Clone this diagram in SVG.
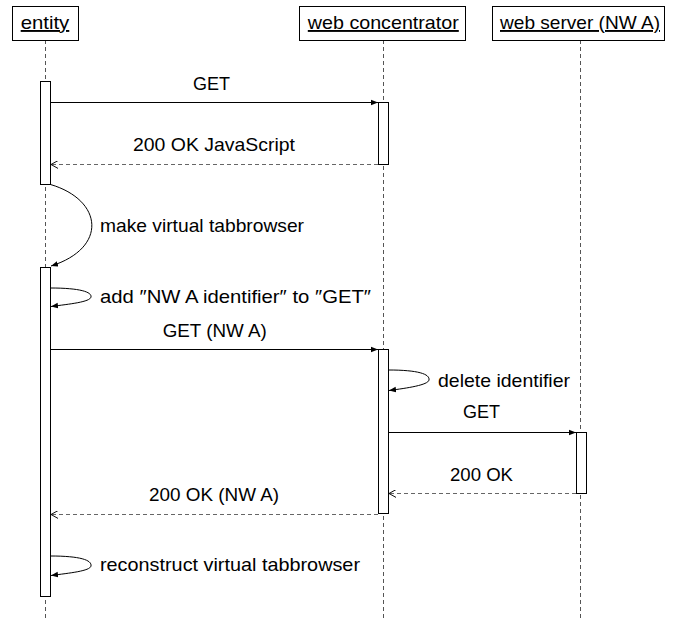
<svg xmlns="http://www.w3.org/2000/svg" width="675" height="618" viewBox="0 0 675 618">
<defs>
<style>
text{font-family:"Liberation Sans",Arial,sans-serif;font-size:19px;fill:#000}
.hd{text-decoration:underline}
.box{fill:#fff;stroke:#000;stroke-width:1}
.life{stroke:#555;stroke-width:1;stroke-dasharray:4,3;fill:none}
.bar{fill:#fff;stroke:#000;stroke-width:1}
.msg{stroke:#000;stroke-width:1;fill:none}
.ret{stroke:#666;stroke-width:1;stroke-dasharray:4,3;fill:none}
</style>
<marker id="fill" viewBox="0 0 10 10" refX="10" refY="5" markerWidth="7" markerHeight="7" orient="auto" markerUnits="userSpaceOnUse">
<path d="M0,1 L10,5 L0,9 z" fill="#000"/>
</marker>
<marker id="open" viewBox="0 0 10 10" refX="9" refY="5" markerWidth="8" markerHeight="8" orient="auto" markerUnits="userSpaceOnUse">
<path d="M0,0 L9,5 L0,10" fill="none" stroke="#000" stroke-width="1.2"/>
</marker>
</defs>
<rect width="675" height="618" fill="#fff"/>

<g id="entity">
<line class="life" x1="45.5" y1="40" x2="45.5" y2="618"/>
<rect class="box" x="12.5" y="6.5" width="66" height="34"/>
<text class="hd" x="45" y="29" text-anchor="middle" textLength="48.6" lengthAdjust="spacingAndGlyphs">entity</text>
<rect class="bar" x="40.5" y="81.5" width="10" height="103"/>
<rect class="bar" x="40.5" y="267.5" width="10" height="329"/>
</g>

<g id="web-concentrator">
<line class="life" x1="383.5" y1="40" x2="383.5" y2="618"/>
<rect class="box" x="299.5" y="6.5" width="166" height="34"/>
<text class="hd" x="383.3" y="29" text-anchor="middle" textLength="151" lengthAdjust="spacingAndGlyphs">web concentrator</text>
<rect class="bar" x="378.5" y="102.5" width="10" height="62"/>
<rect class="bar" x="378.5" y="349.5" width="10" height="164"/>
</g>

<g id="web-server">
<line class="life" x1="580.5" y1="40" x2="580.5" y2="618"/>
<rect class="box" x="492.5" y="6.5" width="172" height="34"/>
<text class="hd" x="580" y="29" text-anchor="middle" textLength="160" lengthAdjust="spacingAndGlyphs">web server (NW A)</text>
<rect class="bar" x="576.5" y="432.5" width="10" height="61"/>
</g>

<g id="connectors">
<line class="msg" x1="50.5" y1="102.5" x2="378" y2="102.5" marker-end="url(#fill)"/>
<text x="211.5" y="90" text-anchor="middle" textLength="37" lengthAdjust="spacingAndGlyphs">GET</text>

<line class="ret" x1="378" y1="164.5" x2="51" y2="164.5" marker-end="url(#open)"/>
<text x="214" y="151" text-anchor="middle" textLength="162" lengthAdjust="spacingAndGlyphs">200 OK JavaScript</text>

<path class="msg" d="M50.5,184.5 C103,200 108,248 51,266" marker-end="url(#fill)"/>
<text x="100" y="232" textLength="204" lengthAdjust="spacingAndGlyphs">make virtual tabbrowser</text>

<path class="msg" d="M50.5,288 C80,288 92,292 91,297 C90,302 70,304 51,306.5" marker-end="url(#fill)"/>
<text x="100" y="303" textLength="271" lengthAdjust="spacingAndGlyphs">add ″NW A identifier″ to ″GET″</text>

<line class="msg" x1="50.5" y1="349.5" x2="378" y2="349.5" marker-end="url(#fill)"/>
<text x="214.7" y="337" text-anchor="middle" textLength="104" lengthAdjust="spacingAndGlyphs">GET (NW A)</text>

<path class="msg" d="M388.5,370 C418,370 430,374 429,380 C428,385 408,388 389,390.5" marker-end="url(#fill)"/>
<text x="438" y="387" textLength="132" lengthAdjust="spacingAndGlyphs">delete identifier</text>

<line class="msg" x1="388.5" y1="432.5" x2="576" y2="432.5" marker-end="url(#fill)"/>
<text x="481.5" y="418" text-anchor="middle" textLength="37" lengthAdjust="spacingAndGlyphs">GET</text>

<line class="ret" x1="576" y1="493.5" x2="389" y2="493.5" marker-end="url(#open)"/>
<text x="481.5" y="481" text-anchor="middle" textLength="63" lengthAdjust="spacingAndGlyphs">200 OK</text>

<line class="ret" x1="378" y1="514.5" x2="51" y2="514.5" marker-end="url(#open)"/>
<text x="214" y="501" text-anchor="middle" textLength="130" lengthAdjust="spacingAndGlyphs">200 OK (NW A)</text>

<path class="msg" d="M50.5,556 C80,556 92,560 91,566 C90,571 70,573 51,575.5" marker-end="url(#fill)"/>
<text x="100" y="571" textLength="260" lengthAdjust="spacingAndGlyphs">reconstruct virtual tabbrowser</text>
</g>
</svg>
